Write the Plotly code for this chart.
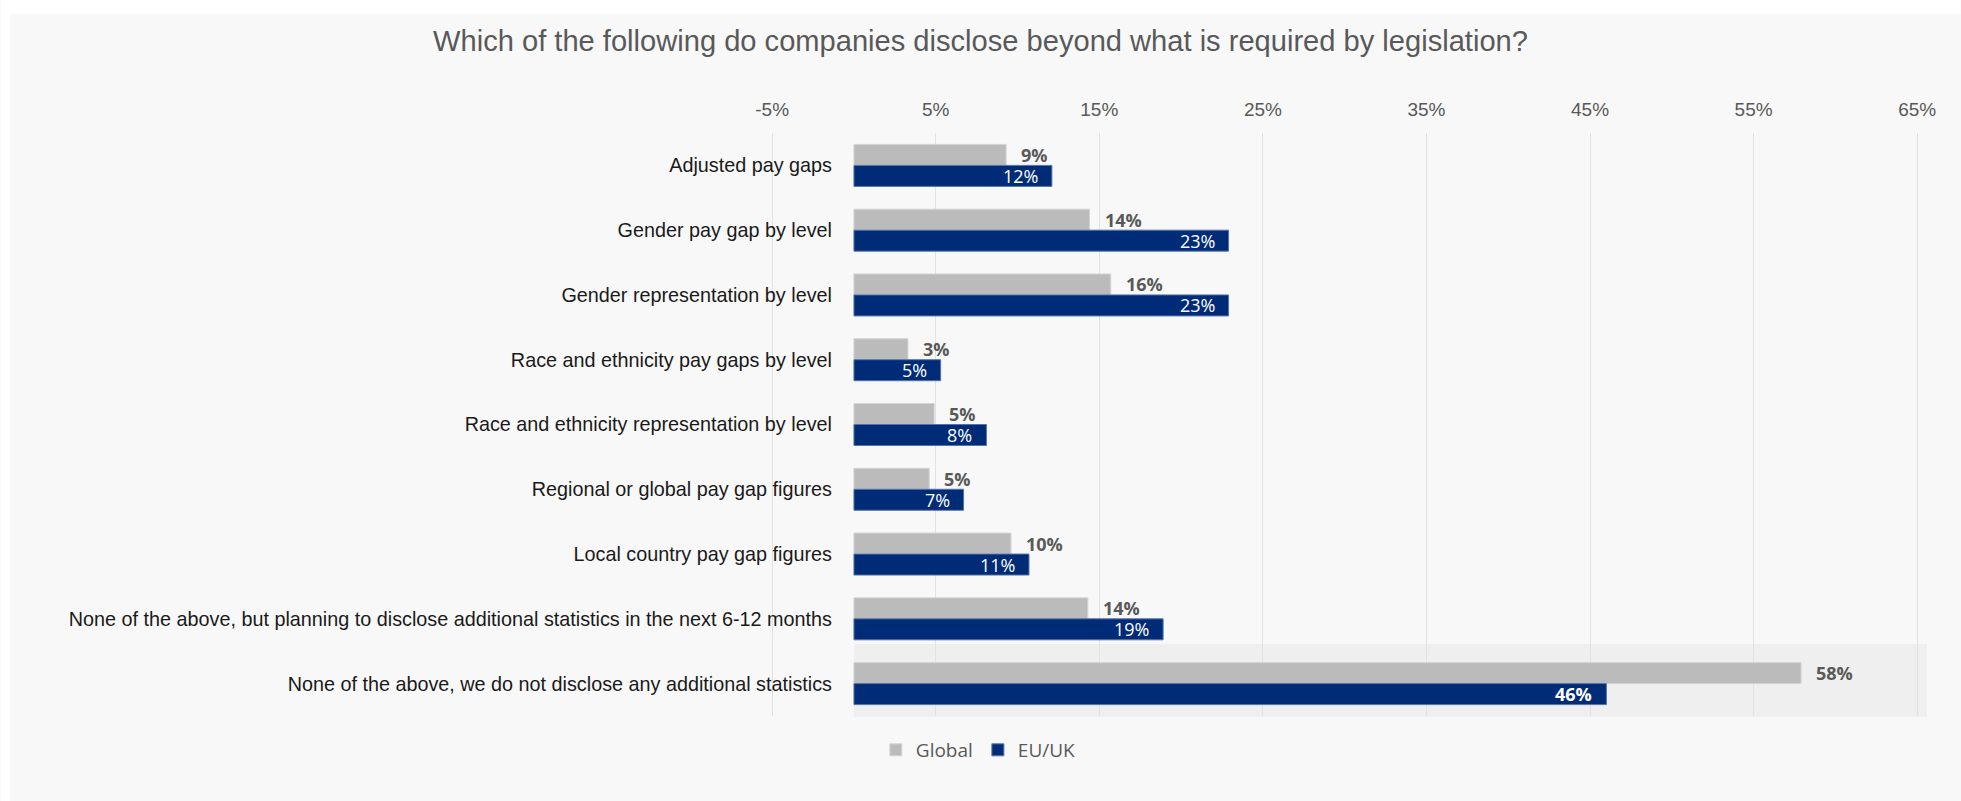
import plotly.graph_objects as go

categories = [
    "Adjusted pay gaps",
    "Gender pay gap by level",
    "Gender representation by level",
    "Race and ethnicity pay gaps by level",
    "Race and ethnicity representation by level",
    "Regional or global pay gap figures",
    "Local country pay gap figures",
    "None of the above, but planning to disclose additional statistics in the next 6-12 months",
    "None of the above, we do not disclose any additional statistics",
]
global_vals = [9.3, 14.4, 15.7, 3.3, 4.9, 4.6, 9.6, 14.3, 57.9]
euuk_vals = [12.1, 22.9, 22.9, 5.3, 8.1, 6.7, 10.7, 18.9, 46.0]
global_labels = ["9%", "14%", "16%", "3%", "5%", "5%", "10%", "14%", "58%"]
euuk_labels = ["12%", "23%", "23%", "5%", "8%", "7%", "11%", "19%", "46%"]
tick_vals = [-5, 5, 15, 25, 35, 45, 55, 65]
tick_text = ["-5%", "5%", "15%", "25%", "35%", "45%", "55%", "65%"]

GRAY = "#BBBBBB"
BLUE = "#002C77"
TXT = "#595959"

W, H = 1961, 801
ML, MR, MT, MB = 763.5, 33.6, 133, 85
XMIN, XMAX = -5.5, 65.6
plot_w = W - ML - MR
plot_h = H - MT - MB

fig = go.Figure()
fig.add_trace(go.Bar(
    y=categories, x=global_vals, orientation="h", name="Global",
    marker=dict(color=GRAY, line=dict(color="#d4d4d4", width=1)),
    hoverinfo="skip",
))
fig.add_trace(go.Bar(
    y=categories, x=euuk_vals, orientation="h", name="EU/UK",
    marker=dict(color=BLUE, line=dict(color="#5573a8", width=1)),
    hoverinfo="skip",
))

annotations = []
n = len(categories)
for i, (c, g, e, gl, el) in enumerate(zip(categories, global_vals, euuk_vals, global_labels, euuk_labels)):
    last = i == n - 1
    annotations.append(dict(
        x=g, y=c, xref="x", yref="y", text=f"<b>{gl}</b>", showarrow=False,
        xanchor="left", yanchor="middle", xshift=13, yshift=10.5,
        font=dict(family="Open Sans", size=18, color=TXT),
    ))
    annotations.append(dict(
        x=e, y=c, xref="x", yref="y", text=(f"<b>{el}</b>" if last else el), showarrow=False,
        xanchor="right", yanchor="middle", xshift=-12, yshift=-10.5,
        font=dict(family="Open Sans", size=18, color="white"),
    ))

def px_x(px):
    return (px - ML) / plot_w

def px_y(py):
    return (H - MB - py) / plot_h

shapes = [
    # highlight band for the last category
    dict(type="rect", xref="x", yref="paper", x0=0, x1=XMAX,
         y0=px_y(717), y1=px_y(644), fillcolor="#efefef", line=dict(width=0), layer="below"),
    # white page margin strips
    dict(type="rect", xref="paper", yref="paper", x0=px_x(0), x1=px_x(9),
         y0=px_y(H), y1=px_y(0), fillcolor="white", line=dict(width=0), layer="below"),
    dict(type="rect", xref="paper", yref="paper", x0=px_x(0), x1=px_x(W),
         y0=px_y(14), y1=px_y(0), fillcolor="white", line=dict(width=0), layer="below"),
]

fig.update_layout(
    width=W, height=H,
    margin=dict(l=ML, r=MR, t=MT, b=MB, pad=0),
    paper_bgcolor="#f8f8f8", plot_bgcolor="rgba(0,0,0,0)",
    barmode="group", bargap=0.352, bargroupgap=0,
    title=dict(
        text="Which of the following do companies disclose beyond what is required by legislation?",
        x=0.5, xref="container", xanchor="center", y=1 - 41 / H, yanchor="middle",
        font=dict(family="Liberation Sans, Arial", size=29.1, color=TXT),
    ),
    xaxis=dict(
        range=[XMIN, XMAX], side="top", tickvals=tick_vals, ticktext=tick_text,
        showgrid=True, gridcolor="#e2e2e2", gridwidth=1, zeroline=False, showline=False,
        ticks="", ticklabelstandoff=12,
        tickfont=dict(family="Liberation Sans, Arial", size=19, color=TXT),
        fixedrange=True,
    ),
    yaxis=dict(
        autorange="reversed", anchor="free", position=(0 - XMIN) / (XMAX - XMIN),
        showgrid=False, zeroline=False, showline=False, ticks="", ticklabelstandoff=22,
        tickfont=dict(family="Liberation Sans, Arial", size=19.8, color="#1a1a1a"),
        fixedrange=True,
    ),
    legend=dict(
        orientation="h", x=px_x(978), xanchor="center", y=px_y(750), yanchor="middle",
        font=dict(family="Open Sans", size=19, color=TXT), bgcolor="rgba(0,0,0,0)",
        itemclick=False, itemdoubleclick=False,
    ),
    annotations=annotations,
    shapes=shapes,
    showlegend=True,
)

fig.write_html("out.html", config={"displayModeBar": False})
